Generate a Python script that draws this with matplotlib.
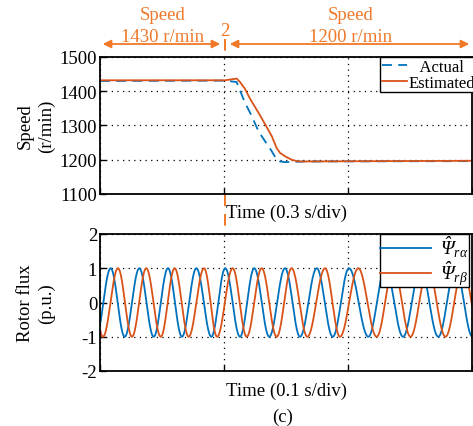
import numpy as np
import matplotlib
matplotlib.use('Agg')
import matplotlib.pyplot as plt
from matplotlib.lines import Line2D
from matplotlib.patches import FancyArrowPatch

plt.rcParams['font.family'] = ['Liberation Serif', 'DejaVu Serif']
# math only used in the flux legend: everything italic there, like the original
plt.rcParams['mathtext.fontset'] = 'custom'
plt.rcParams['mathtext.rm'] = 'Liberation Serif:italic'
plt.rcParams['mathtext.it'] = 'Liberation Serif:italic'

BLUE = '#0072BD'
RED = '#D95319'
ORANGE = '#F07828'

# speed (top plot), time in divisions of 0.3 s
t_act = [0, 1.008, 1.102, 1.129, 1.169, 1.223, 1.277, 1.331, 1.385, 1.425, 1.452, 1.492, 1.65, 3.0]
v_act = [1430, 1431, 1427, 1402, 1367, 1328, 1284, 1254, 1225, 1200, 1195, 1193, 1195, 1196]
t_est = [0, 1.008, 1.102, 1.129, 1.169, 1.210, 1.277, 1.331, 1.385, 1.425, 1.452, 1.492,
         1.546, 1.599, 1.653, 3.0]
v_est = [1432, 1432, 1437, 1427, 1407, 1378, 1338, 1304, 1269, 1234, 1220, 1210,
         1200, 1195, 1195, 1197]

# rotor flux (bottom plot): times of the peaks/troughs, in divisions of 0.1 s
alpha_ext_t = [-0.032, 0.086, 0.199, 0.317, 0.433, 0.548, 0.661, 0.777, 0.898, 1.010,
               1.129, 1.244, 1.365, 1.492, 1.613, 1.748, 1.877, 2.008, 2.164, 2.302,
               2.444, 2.585, 2.728, 2.867, 3.004, 3.145]
alpha_first = -1
beta_ext_t = [-0.091, 0.024, 0.145, 0.258, 0.373, 0.490, 0.602, 0.715, 0.839, 0.944,
              1.070, 1.183, 1.304, 1.425, 1.545, 1.672, 1.815, 1.935, 2.083, 2.231,
              2.367, 2.504, 2.645, 2.786, 2.927, 3.065]
beta_first = 1


def wave(ext_t, first, t):
    # half-cosine pieces between successive extrema (+1/-1)
    ext_t = np.asarray(ext_t)
    vals = first * (-1.0) ** np.arange(len(ext_t))
    y = np.zeros_like(t)
    for i in range(len(ext_t) - 1):
        m = (t >= ext_t[i]) & (t <= ext_t[i + 1])
        ph = (t[m] - ext_t[i]) / (ext_t[i + 1] - ext_t[i])
        y[m] = vals[i] + (vals[i + 1] - vals[i]) * (1 - np.cos(np.pi * ph)) / 2
    return y


fig = plt.figure(figsize=(4.73, 4.27), dpi=100)
W, H = 473.0, 427.0
ax1 = fig.add_axes([100 / W, 1 - 195 / H, 372 / W, 137 / H])
ax2 = fig.add_axes([100 / W, 1 - 372 / H, 372 / W, 137 / H])

for ax in (ax1, ax2):
    ax.set_xlim(0, 3)
    ax.set_xticks([0, 1, 2, 3])
    ax.set_xticklabels([])
    ax.tick_params(direction='in', length=4, width=1, labelsize=13.5, pad=2)
    ax.grid(True, color='black', linestyle=(0, (1, 3.5)), linewidth=0.9)
    for s in ax.spines.values():
        s.set_linewidth(1.3)

ax1.plot(t_act, v_act, color=BLUE, linestyle=(0, (5.5, 3.5)), linewidth=1.3, label='   Actual')
ax1.plot(t_est, v_est, color=RED, linewidth=1.3, label='Estimated')
ax1.set_ylim(1100, 1500)
ax1.set_yticks([1100, 1200, 1300, 1400, 1500])
ax1.set_xlabel('Time (0.3 s/div)', fontsize=13.5, labelpad=5)
leg1 = ax1.legend(loc='upper left', bbox_to_anchor=(0.753, 1.0), fontsize=12,
                  frameon=True, fancybox=False, edgecolor='black', framealpha=1,
                  handlelength=1.5, handletextpad=0.1, borderpad=0.1,
                  labelspacing=0.0, borderaxespad=0)
leg1.get_frame().set_linewidth(1.0)

tt = np.linspace(0, 3, 3000)
ax2.plot(tt, wave(alpha_ext_t, alpha_first, tt), color=BLUE, linewidth=1.3,
         label=r'$\hat{\Psi}_{r\alpha}$')
ax2.plot(tt, wave(beta_ext_t, beta_first, tt), color=RED, linewidth=1.3,
         label=r'$\hat{\Psi}_{r\beta}$')
ax2.set_ylim(-2, 2)
ax2.set_yticks([-2, -1, 0, 1, 2])
ax2.set_yticklabels(['-2', '-1', '0', '1', '2'])
ax2.set_xlabel('Time (0.1 s/div)', fontsize=13.5, labelpad=6)
leg2 = ax2.legend(loc='upper left', bbox_to_anchor=(0.753, 1.0), fontsize=14,
                  frameon=True, fancybox=False, edgecolor='black', framealpha=1,
                  handlelength=2.6, handletextpad=0.5, borderpad=0.0,
                  labelspacing=0.0, borderaxespad=0)
leg2.get_frame().set_linewidth(1.0)

# y labels placed by hand, two centred lines
fig.text(36 / W, 1 - 126.5 / H, 'Speed\n(r/min)', rotation=90, fontsize=13.5,
         ha='center', va='center', multialignment='center', linespacing=1.3)
fig.text(36 / W, 1 - 303.5 / H, 'Rotor flux\n(p.u.)', rotation=90, fontsize=13.5,
         ha='center', va='center', multialignment='center', linespacing=1.3)

# switching instant, arrows and labels on top
xs = 225 / W
fig.add_artist(Line2D([xs, xs], [1 - 40 / H, 1 - 372 / H], transform=fig.transFigure,
                      color=ORANGE, linestyle=(0, (6, 4)), linewidth=1.4, zorder=0))
ya = 1 - 45 / H
for x0, x1 in [(100, 223), (227, 472)]:
    fig.add_artist(FancyArrowPatch((x0 / W, ya), (x1 / W, ya), transform=fig.transFigure,
                                   arrowstyle='<|-|>', mutation_scale=12,
                                   color=ORANGE, linewidth=1.3))
fig.text(163 / W, 1 - 16 / H, 'Speed', color=ORANGE, fontsize=13.5, ha='center', va='center')
fig.text(163 / W, 1 - 37 / H, '1430 r/min', color=ORANGE, fontsize=13.5, ha='center', va='center')
fig.text(351 / W, 1 - 16 / H, 'Speed', color=ORANGE, fontsize=13.5, ha='center', va='center')
fig.text(351 / W, 1 - 37 / H, '1200 r/min', color=ORANGE, fontsize=13.5, ha='center', va='center')
fig.text(xs, 1 - 31 / H, '2', color=ORANGE, fontsize=13.5, ha='center', va='center')
fig.text(283 / W, 1 - 417 / H, '(c)', fontsize=13.5, ha='center', va='center')

fig.savefig('out.png', dpi=100)
